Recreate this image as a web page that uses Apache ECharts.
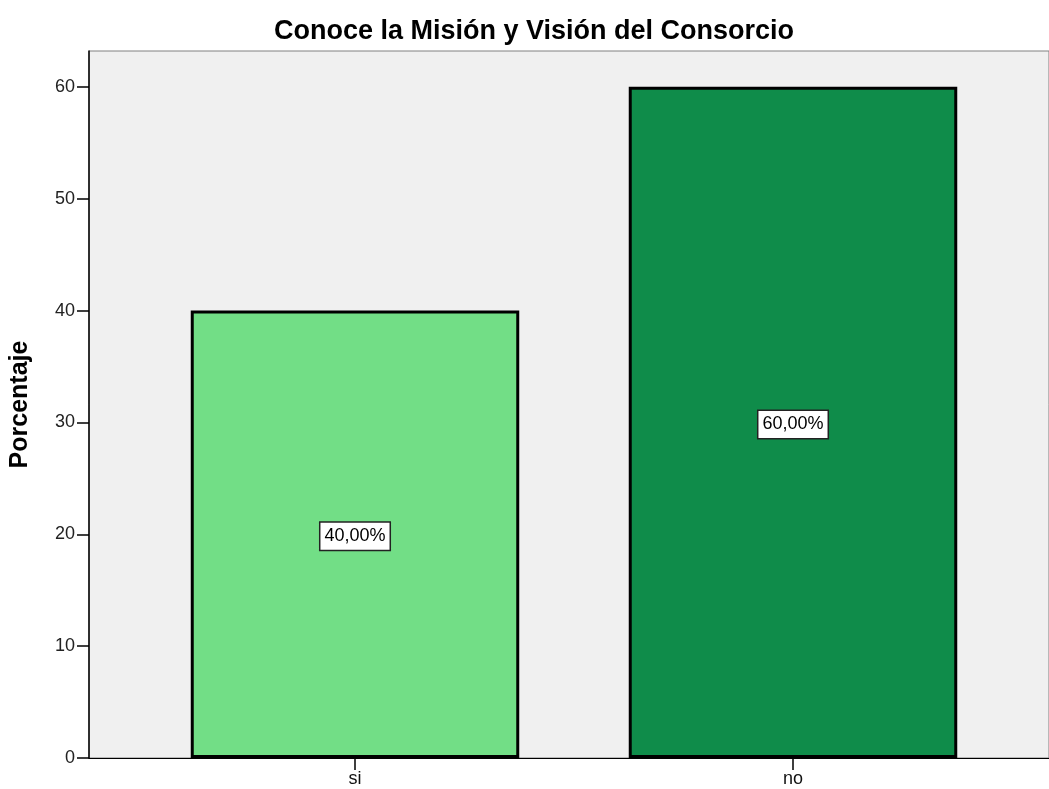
<!DOCTYPE html>
<html>
<head>
<meta charset="utf-8">
<script src="https://cdn.jsdelivr.net/npm/echarts@6/dist/echarts.min.js"></script>
<style>
  html, body { margin: 0; padding: 0; background: #fff; }
  #chart { width: 1049px; height: 789px; }
</style>
</head>
<body>
<div id="chart"></div>
<script>
const categories = ["si", "no"];
const percentages = [40, 60];
const barColors = ["#72de86", "#0f8c4a"];
const yTicks = [0, 10, 20, 30, 40, 50, 60];

const chart = echarts.init(document.getElementById("chart"));

const option = {
  animation: false,
  title: {
    text: "Conoce la Misión y Visión del Consorcio",
    left: 529,
    textAlign: "center",
    top: 13,
    textStyle: { fontFamily: "Liberation Sans", fontWeight: "bold", fontSize: 27, color: "#000" }
  },
  grid: [
    // plot frame with background
    { left: 88, top: 51, right: -2, bottom: 31, show: true, backgroundColor: "#f0f0f0", borderColor: "#808080", borderWidth: 1 },
    // bars
    { left: 136, top: 51, right: 37, bottom: 31 }
  ],
  xAxis: [
    {
      gridIndex: 0, type: "value", min: 0, max: 1,
      axisLine: { show: true, onZero: false, lineStyle: { color: "#000", width: 1 } },
      axisTick: { show: false }, axisLabel: { show: false }, splitLine: { show: false }
    },
    {
      gridIndex: 1, type: "category", data: categories,
      axisLine: { show: false },
      axisTick: { show: true, alignWithLabel: true, length: 12, lineStyle: { color: "#000", width: 1.5 } },
      axisLabel: { color: "#111", fontFamily: "Liberation Sans", fontSize: 18, margin: 12 }
    }
  ],
  yAxis: [
    {
      gridIndex: 0, type: "value", min: 0, max: 63.2, interval: 10,
      name: "Porcentaje", nameLocation: "middle", nameGap: 56, nameRotate: 90,
      nameTextStyle: { fontFamily: "Liberation Sans", fontWeight: "bold", fontSize: 25, color: "#000" },
      axisLine: { show: true, lineStyle: { color: "#000", width: 1.5 } },
      axisTick: { show: true, length: 12, customValues: yTicks, lineStyle: { color: "#000", width: 1.5 } },
      axisLabel: {
        color: "#222", fontFamily: "Liberation Sans", fontSize: 18, margin: 14,
        customValues: yTicks
      },
      splitLine: { show: false }
    },
    {
      gridIndex: 1, type: "value", min: 0, max: 63.2, show: false
    }
  ],
  series: [
    {
      type: "bar",
      xAxisIndex: 1,
      yAxisIndex: 1,
      barCategoryGap: "25%",
      data: percentages.map((v, i) => ({
        value: v,
        itemStyle: { color: barColors[i], borderColor: "#000", borderWidth: 3 }
      })),
      label: {
        show: true,
        position: "inside",
        offset: [0, 2],
        formatter: p => p.value.toFixed(2).replace(".", ",") + "%",
        color: "#000",
        fontFamily: "Liberation Sans",
        fontSize: 18,
        backgroundColor: "#fff",
        borderColor: "#222",
        borderWidth: 1.5,
        padding: [5, 4, 4, 4]
      }
    }
  ]
};

chart.setOption(option);
</script>
</body>
</html>
